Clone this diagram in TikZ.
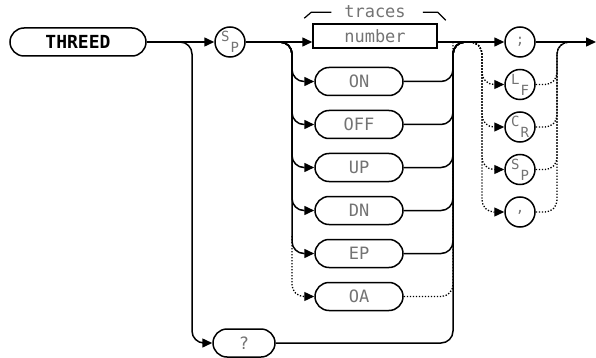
\documentclass[tikz,border=0pt]{standalone}
\usepackage{fontspec}
\newfontfamily\hpfont{DejaVu Sans Mono}
\usetikzlibrary{arrows.meta, positioning}

\begin{document}
\begin{tikzpicture}[
    x=1pt, y=-1pt,
    line width=1.5pt,
    arr/.style={-{Triangle[length=10pt,width=9pt]}},
    dots/.style={line width=1.3pt, dash pattern=on 1.3pt off 1.7pt},
    pill/.style={rectangle, draw, rounded corners=14pt, minimum width=#1, minimum height=28pt, inner sep=0pt, font=\hpfont\fontsize{17}{17}\selectfont, text=black!55},
    box/.style={rectangle, draw, minimum width=124pt, minimum height=24pt, inner sep=0pt, font=\hpfont\fontsize{17}{17}\selectfont, text=black!55},
    sym/.style={circle, draw, minimum size=30pt, inner sep=0pt, font=\hpfont\fontsize{14}{14}\selectfont, text=black!55}
]
\useasboundingbox (0,0) rectangle (596,358);

\node[pill=136pt, font=\hpfont\bfseries\fontsize{18}{18}\selectfont, text=black] (threed) at (78,42) {THREED};
\node[sym] (sp1) at (230,42) {\raisebox{5pt}{S}\kern1pt\raisebox{-6pt}{P}};

% parameter choices
\node[box] (num) at (375,36) {number};
\node[font=\hpfont\fontsize{17}{17}\selectfont, text=black!55, inner sep=0pt] (traces) at (375,12) {traces};
\node[pill=88pt] (on) at (359,81.5) {ON};
\node[pill=88pt, below=13.5pt of on] (off) {OFF};
\node[pill=88pt, below=13.5pt of off] (up) {UP};
\node[pill=88pt, below=13.5pt of up] (dn) {DN};
\node[pill=88pt, below=13.5pt of dn] (ep) {EP};
\node[pill=88pt, below=13.5pt of ep] (oa) {OA};
\node[pill=62pt] (q) at (244,343) {?};

% terminators
\node[sym] (semi) at (520,42) {;};
\node[sym, below=11pt of semi] (lf) {\raisebox{5pt}{L}\kern1pt\raisebox{-6pt}{F}};
\node[sym, below=11pt of lf] (cr) {\raisebox{5pt}{C}\kern1pt\raisebox{-6pt}{R}};
\node[sym, below=11pt of cr] (sp2) {\raisebox{5pt}{S}\kern1pt\raisebox{-6pt}{P}};
\node[sym, below=11pt of sp2] (comma) {,};

\coordinate (s0) at (176,42);
\coordinate (c0) at (192,42);
\coordinate (s1) at (278,42);
\coordinate (c1) at (292,42);
\coordinate (c5) at (292,236);
\coordinate (c2) at (453,42);
\coordinate (j2) at (468,42);
\coordinate (d1) at (470,42);
\coordinate (c3) at (482,42);
\coordinate (c4) at (557,42);
\coordinate (d2) at (570,42);
\coordinate (stop) at (596,42);

% bracket round the label
\draw[line width=1.2pt] ([xshift=-8pt,yshift=5pt]num.north west) -- ([xshift=-1pt,yshift=11pt]num.north west) -- ([xshift=19pt,yshift=11pt]num.north west);
\draw[line width=1.2pt] ([xshift=-15pt,yshift=11pt]num.north east) -- ([yshift=11pt]num.north east) -- ([xshift=8pt,yshift=3pt]num.north east);

% main line
\draw[arr] (threed.east) -- (sp1.west);
\draw[arr] (sp1.east) -- (sp1.east -| num.west);
\draw[arr] (num.east |- semi.west) -- (semi.west);
\draw[arr] (semi.east) -- (stop);

% query branch
\draw[arr, rounded corners=12pt] (s0) -- (c0) |- (q.west);
\draw[rounded corners=12pt] (q.east) -| (c2) -- (j2);

% alternatives
\draw[arr, rounded corners=12pt] (s1) -- (c1) |- (on.west);
\draw[arr, rounded corners=12pt] (s1) -- (c1) |- (off.west);
\draw[arr, rounded corners=12pt] (s1) -- (c1) |- (up.west);
\draw[arr, rounded corners=12pt] (s1) -- (c1) |- (dn.west);
\draw[arr, rounded corners=12pt] (s1) -- (c1) |- (ep.west);
\draw[arr, dots, rounded corners=12pt] (c5) |- (oa.west);
\draw[rounded corners=12pt] (on.east) -| (c2) -- (j2);
\draw[rounded corners=12pt] (off.east) -| (c2) -- (j2);
\draw[rounded corners=12pt] (up.east) -| (c2) -- (j2);
\draw[rounded corners=12pt] (dn.east) -| (c2) -- (j2);
\draw[rounded corners=12pt] (ep.east) -| (c2) -- (j2);
\draw[dots, rounded corners=12pt] (oa.east) -| (c2);

% optional terminators
\draw[arr, dots, rounded corners=12pt] (d1) -- (c3) |- (lf.west);
\draw[arr, dots, rounded corners=12pt] (d1) -- (c3) |- (cr.west);
\draw[arr, dots, rounded corners=12pt] (d1) -- (c3) |- (sp2.west);
\draw[arr, dots, rounded corners=12pt] (d1) -- (c3) |- (comma.west);
\draw[dots, rounded corners=12pt] (lf.east) -| (c4) -- (d2);
\draw[dots, rounded corners=12pt] (cr.east) -| (c4) -- (d2);
\draw[dots, rounded corners=12pt] (sp2.east) -| (c4) -- (d2);
\draw[dots, rounded corners=12pt] (comma.east) -| (c4) -- (d2);
\end{tikzpicture}
\end{document}
